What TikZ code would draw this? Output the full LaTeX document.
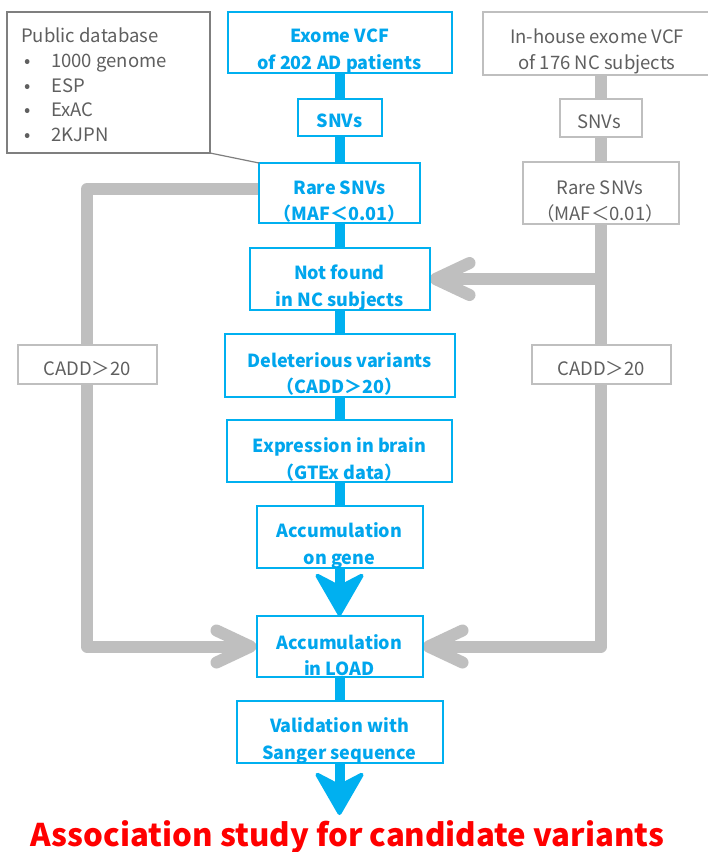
\documentclass[tikz,border=0pt]{standalone}
\usepackage{fontspec}
\newfontfamily\jp{Noto Sans CJK JP}
\usetikzlibrary{arrows.meta,backgrounds}
\definecolor{cb}{HTML}{00B0F0}
\definecolor{cbt}{HTML}{00A6ED}
\definecolor{cg}{HTML}{BFBFBF}
\definecolor{cgt}{HTML}{5F5F5F}
\definecolor{cgd}{HTML}{7F7F7F}
\definecolor{cred}{HTML}{FF0000}
\begin{document}
\begin{tikzpicture}[x=1pt,y=-1pt,
  sz/.style 2 args={minimum width=#1pt, minimum height=#2pt},
  box/.style={line width=2pt, fill=white, inner sep=0pt, outer sep=0pt},
  bbox/.style={box, draw=cb},
  gbox/.style={box, draw=cg},
  btext/.style={text=cbt, font=\jp\bfseries\fontsize{18}{26.5}\selectfont, align=center, inner sep=0pt},
  gtext/.style={text=cgt, font=\jp\fontsize{18.5}{26}\selectfont, align=center, inner sep=0pt},
  bline/.style={draw=cb, line width=10pt},
  barrow/.style={bline, -{Stealth[length=47pt,width=54pt,inset=14pt,line width=4pt,round]}},
  gline/.style={draw=cg, line width=12pt, line join=round},
  garrow/.style={gline, -{Straight Barb[length=34pt,width=32pt,round]}},
]
\useasboundingbox (0,0) rectangle (708,852);

% ---------- blue column ----------
\node[bbox, sz={224}{61}] (exome) at (339.5,42.5) {};
\node[btext] (exomeT) at (339.5,51) {Exome VCF\\of 202 AD patients};
\node[bbox, sz={84}{37}] (snvs) at (339.5,117.5) {};
\node[btext] (snvsT) at (339.5,121) {SNVs};
\node[bbox, sz={161}{60}] (rare) at (339.5,193) {};
\node[btext] (rareT) at (339.5,201.5) {Rare SNVs\\（MAF＜0.01）};
\node[bbox, sz={180}{62}] (nf) at (339.5,279) {};
\node[btext] (nfT) at (339.5,287.5) {Not found\\in NC subjects};
\node[bbox, sz={230}{63}] (del) at (339.5,365.5) {};
\node[btext] (delT) at (339.5,374) {Deleterious variants\\（CADD＞20）};
\node[bbox, sz={225}{62}] (expr) at (339.5,451) {};
\node[btext] (exprT) at (339.5,459.5) {Expression in brain\\（GTEx data）};
\node[bbox, sz={166}{62}] (gene) at (339.5,537) {};
\node[btext] (geneT) at (339.5,545.5) {Accumulation\\on gene};
\node[bbox, sz={166}{61}] (load) at (339.5,646.5) {};
\node[btext] (loadT) at (339.5,655) {Accumulation\\in LOAD};
\node[bbox, sz={206}{62}] (valid) at (339.5,732) {};
\node[btext] (validT) at (339.5,740.5) {Validation with\\Sanger sequence};
\coordinate (endp) at (339.5,815);

% ---------- right column ----------
\node[gbox, sz={236}{63}] (ih) at (601,43.5) {};
\node[gtext] (ihT) at (597,51.5) {In-house exome VCF\\of 176 NC subjects};
\node[gbox, sz={82}{38}] (ihs) at (601,118) {};
\node[gtext] (ihsT) at (599,122) {SNVs};
\node[gbox, sz={156}{62}] (ihr) at (601,193) {};
\node[gtext] (ihrT) at (600,201.5) {Rare SNVs\\（MAF＜0.01）};
\node[gbox, sz={139}{39}] (cr) at (601,364.5) {};
\node[gtext] (crT) at (601,369) {CADD＞20};
\coordinate (rb) at (601,646.5);

% ---------- left column ----------
\node[box, draw=cgd, sz={203}{141}] (pub) at (108.5,82.5) {};
\node[gtext, align=left, anchor=north west, font=\jp\fontsize{18.5}{24.8}\selectfont] (pubT) at (21,27.5)
  {Public database\\
   \makebox[30pt][l]{\hspace{3pt}•}1000 genome\\
   \makebox[30pt][l]{\hspace{3pt}•}ESP\\
   \makebox[30pt][l]{\hspace{3pt}•}ExAC\\
   \makebox[30pt][l]{\hspace{3pt}•}2KJPN};
\node[gbox, sz={139}{39}] (cl) at (87,364.5) {};
\node[gtext] (clT) at (87,369) {CADD＞20};
\coordinate (lt) at (87,189);
\coordinate (lb) at (87,646.5);

% ---------- title ----------
\node[font=\jp\bfseries\fontsize{31.2}{32}\selectfont, text=cred, anchor=base, inner sep=0pt] (title)
  at (347.5,846) {Association study for candidate variants};

% ---------- connectors ----------
\begin{scope}[on background layer]
  \fill[white] (0,0) rectangle (708,852);
  \draw[bline] (exome.center) -- (gene.center);
  \draw[bline] (load.center) -- (valid.center);
  \draw[gline] (ih.center) -- (ihr.center);
  \draw[garrow] (ihr.south) -- (rb) -- (load.east);
  \draw[garrow] (ihr.south |- nf.east) -- (nf.east);
  \draw[garrow] (rare.west |- lt) -- (lt) -- (lb) -- (load.west);
\end{scope}
\draw[barrow] (gene.south) -- (load.north);
\draw[barrow] (valid.south) -- (endp);
\draw[draw=cgd, line width=1.2pt] (pub.south east) -- (rare.north west);
\end{tikzpicture}
\end{document}
